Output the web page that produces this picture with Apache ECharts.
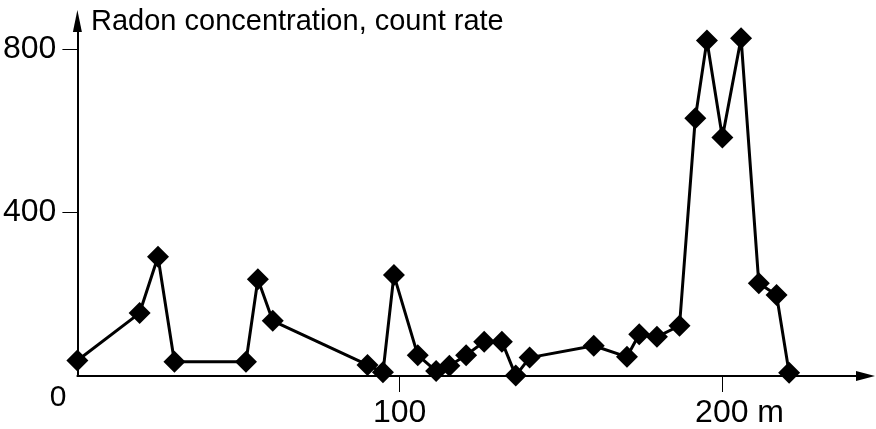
<!DOCTYPE html>
<html>
<head>
<meta charset="utf-8">
<script src="https://cdn.jsdelivr.net/npm/echarts@6/dist/echarts.min.js"></script>
<style>
html,body{margin:0;padding:0;background:#fff;}
#chart{width:876px;height:429px;}
</style>
</head>
<body>
<div id="chart"></div>
<script>
// distance along profile, m
const distance = [0, 19.3, 25.0, 30.1, 52.3, 56.0, 60.6, 90.0, 94.8, 98.2, 105.6, 111.3, 115.4, 120.6, 126.2, 131.7, 136.0, 140.3, 160.2, 170.5, 174.3, 179.8, 186.8, 191.7, 195.3, 200.1, 205.9, 211.4, 216.9, 220.8];
// radon concentration, count rate
const countRate = [38, 154, 292, 35, 35, 237, 135, 27, 9, 247, 51, 12, 25, 51, 84, 84, 1, 45, 74, 47, 102, 96, 123, 631, 821, 584, 827, 227, 198, 8];
const xTicks = [100, 200];
const yTicks = [400, 800];
const yTitle = 'Radon concentration, count rate';
const xUnit = ' m';
const originLabel = '0';

const font = 'Liberation Sans, Arial, sans-serif';
const chart = echarts.init(document.getElementById('chart'));
const data = distance.map((d, i) => [d, countRate[i]]);

chart.setOption({
  backgroundColor: '#fff',
  animation: false,
  grid: { left: 75, right: 10.5, top: 21, bottom: 53, containLabel: false },
  xAxis: {
    type: 'value', min: 0, max: 244.5,
    splitLine: { show: false },
    axisLine: { show: true, onZero: false, lineStyle: { color: '#000', width: 2 }, symbol: ['none', 'triangle'], symbolSize: [10, 19] },
    axisTick: { show: true, customValues: xTicks, length: 16, lineStyle: { color: '#000', width: 1 } },
    axisLabel: {
      show: true, customValues: xTicks, margin: 21, color: '#000',
      formatter: v => v === 200 ? '{p|}{n|' + v + '}{n|' + xUnit + '}' : '{n|' + v + '}',
      rich: {
        n: { fontSize: 32, fontFamily: font, color: '#000' },
        p: { width: 35, fontSize: 32 }
      }
    }
  },
  yAxis: {
    type: 'value', min: 0, max: 869,
    splitLine: { show: false },
    axisLine: { show: true, onZero: false, lineStyle: { color: '#000', width: 2 }, symbol: ['none', 'triangle'], symbolSize: [9, 22] },
    axisTick: { show: true, customValues: yTicks, length: 15, lineStyle: { color: '#000', width: 1 } },
    axisLabel: { show: true, customValues: yTicks, margin: 21, color: '#000', fontSize: 32, fontFamily: font }
  },
  graphic: [
    { type: 'text', x: 91, y: 22, style: { text: yTitle, fontSize: 29, fontFamily: font, fill: '#000', align: 'left', verticalAlign: 'middle' } },
    { type: 'text', x: 58, y: 398, style: { text: originLabel, fontSize: 30, fontFamily: font, fill: '#000', align: 'center', verticalAlign: 'middle' } }
  ],
  series: [{
    type: 'line',
    data: data,
    symbol: 'diamond',
    symbolSize: 22,
    showAllSymbol: true,
    clip: false,
    lineStyle: { color: '#000', width: 3 },
    itemStyle: { color: '#000' }
  }]
});
</script>
</body>
</html>
